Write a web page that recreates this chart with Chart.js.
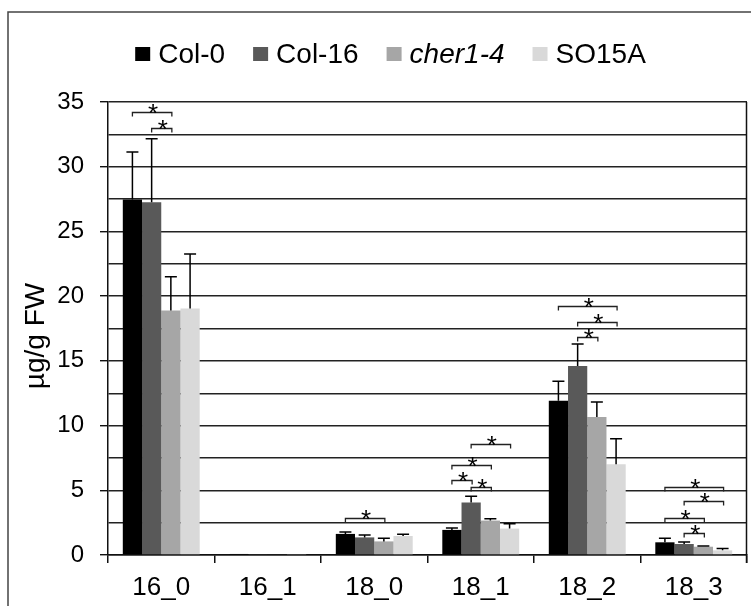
<!DOCTYPE html>
<html><head><meta charset="utf-8">
<script src="https://cdn.jsdelivr.net/npm/chart.js@4/dist/chart.umd.min.js"></script>
<style>html,body{margin:0;padding:0;background:#fff}canvas{display:block}</style>
</head><body>
<canvas id="c" width="751" height="606"></canvas>
<script>
const categories = ['16_0', '16_1', '18_0', '18_1', '18_2', '18_3'];
const seriesNames = ['Col-0', 'Col-16', 'cher1-4', 'SO15A'];
const col0   = [27.46, 0.08, 1.63, 1.94, 11.92, 0.98];
const col16  = [27.26, 0.07, 1.36, 4.05, 14.60, 0.85];
const cher14 = [18.89, 0.06, 1.05, 2.66, 10.66, 0.64];
const so15a  = [19.05, 0.07, 1.47, 2.04, 7.02, 0.36];
const col0Err   = [3.67, 0, 0.15, 0.15, 1.50, 0.31];
const col16Err  = [4.90, 0, 0.19, 0.49, 1.71, 0.16];
const cher14Err = [2.61, 0, 0.24, 0.15, 1.16, 0.06];
const so15aErr  = [4.20, 0, 0.13, 0.38, 1.96, 0.15];
const yTickLabels = [0, 5, 10, 15, 20, 25, 30, 35];
const yTitle = 'µg/g FW';
// significance brackets: [category index, from series, to series, level]
const sigBrackets = [
  [0, 0, 2, 34.23], [0, 1, 2, 32.99],
  [2, 0, 2, 2.87],
  [3, 0, 1, 5.81], [3, 1, 2, 5.23], [3, 0, 2, 6.99], [3, 1, 3, 8.56],
  [4, 0, 3, 19.2], [4, 1, 3, 18.04], [4, 1, 2, 16.83],
  [5, 0, 3, 5.27], [5, 1, 3, 4.15], [5, 0, 2, 2.87], [5, 1, 2, 1.67]
];

const colors = ['#000000', '#595959', '#a6a6a6', '#d9d9d9'];
const values = [col0, col16, cher14, so15a];
const errors = [col0Err, col16Err, cher14Err, so15aErr];
const FONT = '"Liberation Sans", Arial, sans-serif';

const framePlugin = {
  id: 'frame',
  beforeDraw(chart) {
    const ctx = chart.ctx;
    ctx.save();
    ctx.fillStyle = '#fff';
    ctx.fillRect(0, 0, chart.width, chart.height);
    ctx.strokeStyle = '#444';
    ctx.lineWidth = 1.5;
    ctx.strokeRect(8, 12, 800, 700);
    ctx.restore();
  },
  afterDraw(chart) {
    const ctx = chart.ctx, a = chart.chartArea;
    ctx.save();
    ctx.strokeStyle = '#111';
    ctx.lineWidth = 1.5;
    ctx.beginPath();
    ctx.moveTo(a.right - 0.5, a.top);
    ctx.lineTo(a.right - 0.5, a.bottom + 8);
    ctx.stroke();
    // y axis title
    ctx.save();
    ctx.translate(36, 336);
    ctx.rotate(-Math.PI / 2);
    ctx.font = '28px ' + FONT;
    ctx.fillStyle = '#000';
    ctx.textAlign = 'center';
    ctx.textBaseline = 'middle';
    ctx.fillText(yTitle, 0, 0);
    ctx.restore();
    // legend
    const fs = 28, boxW = 15, boxH = 14, gapBox = 8, gapItem = 28;
    const items = seriesNames.map((n, i) => ({ n, i, italic: n === 'cher1-4' }));
    let total = 0;
    items.forEach((it, k) => {
      ctx.font = (it.italic ? 'italic ' : '') + fs + 'px ' + FONT;
      it.w = ctx.measureText(it.n).width;
      total += boxW + gapBox + it.w + (k < items.length - 1 ? gapItem : 0);
    });
    let x = 390.5 - total / 2;
    const base = 63;
    items.forEach(it => {
      ctx.fillStyle = colors[it.i];
      ctx.fillRect(x, 47, boxW, boxH);
      x += boxW + gapBox;
      ctx.font = (it.italic ? 'italic ' : '') + fs + 'px ' + FONT;
      ctx.fillStyle = '#000';
      ctx.textBaseline = 'alphabetic';
      ctx.textAlign = 'left';
      ctx.fillText(it.n, x, base);
      x += it.w + gapItem;
    });
    ctx.restore();
  },
  afterDatasetsDraw(chart) {
    const ctx = chart.ctx, y = chart.scales.y;
    ctx.save();
    // error bars
    ctx.strokeStyle = '#000';
    ctx.lineWidth = 1.5;
    errors.forEach((errArr, d) => {
      const meta = chart.getDatasetMeta(d);
      errArr.forEach((e, c) => {
        if (!e) return;
        const bar = meta.data[c];
        const y0 = y.getPixelForValue(values[d][c]);
        const y1 = y.getPixelForValue(values[d][c] + e);
        ctx.beginPath();
        ctx.moveTo(bar.x, y0);
        ctx.lineTo(bar.x, y1);
        ctx.moveTo(bar.x - 6, y1);
        ctx.lineTo(bar.x + 6, y1);
        ctx.stroke();
      });
    });
    // significance brackets
    ctx.lineWidth = 1.3;
    ctx.strokeStyle = '#222';
    ctx.fillStyle = '#000';
    ctx.font = '26px ' + FONT;
    ctx.textAlign = 'center';
    ctx.textBaseline = 'alphabetic';
    sigBrackets.forEach(([c, s1, s2, lvl]) => {
      const x1 = chart.getDatasetMeta(s1).data[c].x;
      const x2 = chart.getDatasetMeta(s2).data[c].x + 1;
      const py = Math.round(y.getPixelForValue(lvl)) + 0.5;
      ctx.beginPath();
      ctx.moveTo(x1, py + 4);
      ctx.lineTo(x1, py);
      ctx.lineTo(x2, py);
      ctx.lineTo(x2, py + 4);
      ctx.stroke();
      ctx.fillText('*', (x1 + x2) / 2 + 1, py + 9);
    });
    ctx.restore();
  }
};

new Chart(document.getElementById('c'), {
  type: 'bar',
  data: {
    labels: categories,
    datasets: values.map((v, i) => ({
      label: seriesNames[i],
      data: v,
      backgroundColor: colors[i],
      borderWidth: 0,
      categoryPercentage: 0.722,
      barPercentage: 1.0
    }))
  },
  options: {
    responsive: false,
    devicePixelRatio: 1,
    animation: false,
    layout: { padding: { top: 102, right: 4, left: 0, bottom: 0 } },
    plugins: { legend: { display: false }, tooltip: { enabled: false } },
    scales: {
      x: {
        offset: true,
        grid: { display: true, drawOnChartArea: false, drawTicks: true, tickLength: 8, color: '#111', lineWidth: 1.5 },
        border: { display: true, color: '#111', width: 1.5 },
        ticks: { color: '#000', font: { family: FONT, size: 26 }, padding: 9, maxRotation: 0 },
        afterFit(s) { s.height = 51; }
      },
      y: {
        min: 0, max: 35,
        grid: {
          color: '#222', lineWidth: 1.4, tickLength: 8,
          tickColor: ctx => (yTickLabels.includes(ctx.tick && ctx.tick.value) ? '#111' : 'rgba(0,0,0,0)')
        },
        border: { display: true, color: '#111', width: 1.5 },
        ticks: {
          stepSize: 2.5, autoSkip: false, color: '#000', padding: 16,
          font: { family: FONT, size: 24 },
          callback: v => (yTickLabels.includes(v) ? String(v) : '')
        },
        title: { display: false },
        afterFit(s) { s.width = 108; }
      }
    }
  },
  plugins: [framePlugin]
});
</script>
</body></html>
